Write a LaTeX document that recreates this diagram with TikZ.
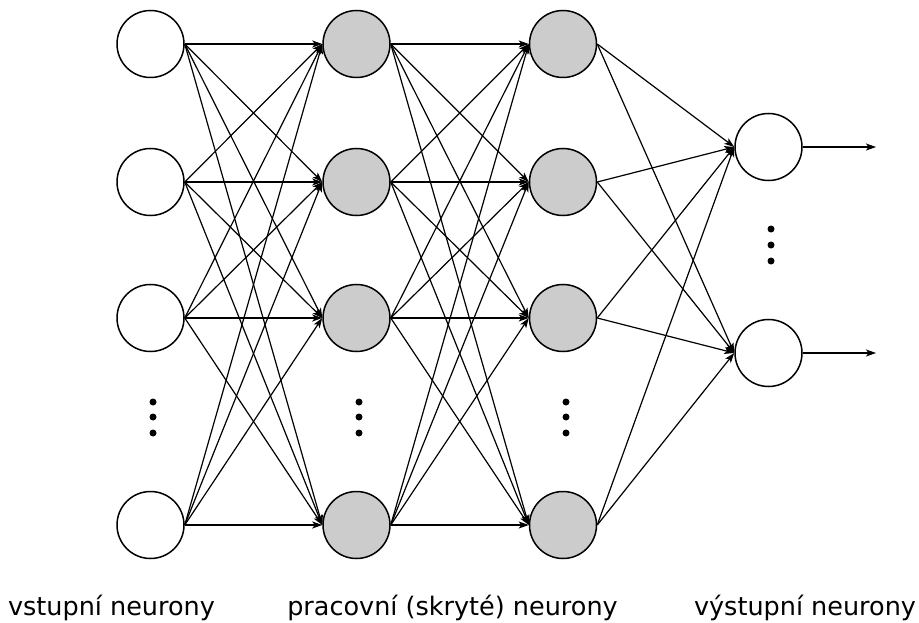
\documentclass[tikz,border=0pt]{standalone}
\usepackage{fontspec}
\setmainfont{DejaVu Sans}
\usetikzlibrary{arrows.meta}
\begin{document}
\begin{tikzpicture}[x=1pt,y=-1pt,
  neuron/.style={circle,draw,line width=1.5pt,minimum size=67pt,inner sep=0pt},
  hidden/.style={neuron,fill=black!20},
  link/.style={line width=1.2pt,-{Stealth[length=10pt,width=7pt,inset=2.5pt]}},
  vdot/.style={circle,fill,inner sep=0pt,minimum size=7pt},
  caption/.style={font=\fontsize{25.5}{30}\selectfont,anchor=base}]
\useasboundingbox (0,0) rectangle (919,623);
% three columns of four neurons each
\foreach \i/\y in {1/44,2/182,3/318,4/525}{
  \node[neuron] (in\i) at (150.5,\y) {};
  \node[hidden] (ha\i) at (356.5,\y) {};
  \node[hidden] (hb\i) at (563,\y) {};
}
\node[neuron] (out1) at (768.5,147) {};
\node[neuron] (out2) at (768.5,353) {};
% full connections between consecutive layers
\foreach \i in {1,...,4}{
  \foreach \j in {1,...,4}{
    \draw[link] (in\i.east) -- (ha\j.west);
    \draw[link] (ha\i.east) -- (hb\j.west);
  }
  \foreach \j in {1,2}{
    \draw[link] (hb\i.east) -- (out\j.west);
  }
}
\coordinate (o1) at (876,147);
\coordinate (o2) at (876,353);
\draw[link] (out1.east) -- (o1);
\draw[link] (out2.east) -- (o2);
% ellipsis dots
\foreach \x/\c in {153/a,359/b,566/c}{
  \foreach \y/\k in {402/1,417/2,433/3}{
    \node[vdot] (d\c\k) at (\x,\y) {};
  }
}
\foreach \y/\k in {229/1,245/2,261/3}{
  \node[vdot] (dd\k) at (771,\y) {};
}
% layer captions
\node[caption] (capin) at (111.5,615) {vstupní neurony};
\node[caption] (caphid) at (452.5,615) {pracovní (skryté) neurony};
\node[caption] (capout) at (805,615) {výstupní neurony};
\end{tikzpicture}
\end{document}
